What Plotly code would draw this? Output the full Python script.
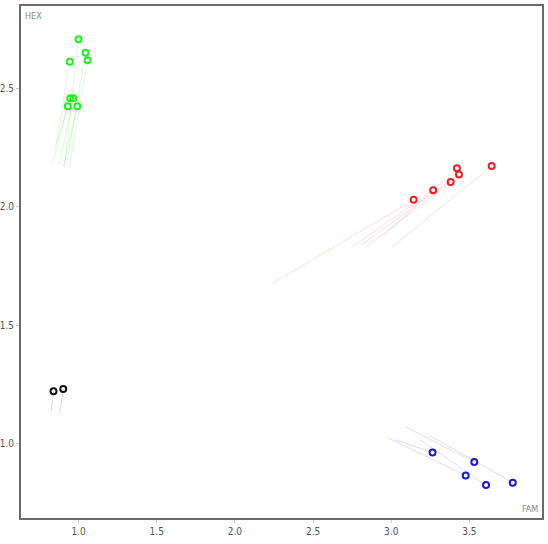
import plotly.graph_objects as go

# cluster points (FAM, HEX) and the start of the faint trail behind each one
green_x = [1.000, 0.944, 1.045, 1.058, 0.947, 0.966, 0.931, 0.992]
green_y = [2.709, 2.614, 2.652, 2.620, 2.459, 2.459, 2.426, 2.426]
green_tx = [0.910, 0.859, 0.930, 0.942, 0.846, 0.878, 0.834, 0.904]
green_ty = [2.171, 2.273, 2.201, 2.171, 2.243, 2.180, 2.180, 2.171]

red_x = [3.143, 3.268, 3.380, 3.420, 3.433, 3.642]
red_y = [2.030, 2.071, 2.105, 2.164, 2.137, 2.173]
red_tx = [2.240, 2.754, 2.842, 2.927, 2.810, 3.002]
red_ty = [1.677, 1.833, 1.833, 1.863, 1.840, 1.829]

blue_x = [3.264, 3.531, 3.476, 3.606, 3.777]
blue_y = [0.963, 0.923, 0.866, 0.825, 0.835]
blue_tx = [3.023, 3.087, 2.978, 3.183, 3.247]
blue_ty = [1.017, 1.072, 1.025, 1.017, 1.034]

black_x = [0.840, 0.902]
black_y = [1.221, 1.231]
black_tx = [0.825, 0.880]
black_ty = [1.137, 1.127]

x_ticks = [1.0, 1.5, 2.0, 2.5, 3.0, 3.5]
y_ticks = [1.0, 1.5, 2.0, 2.5]

font_family = 'DejaVu Sans Condensed, Liberation Sans Narrow, DejaVu Sans, sans-serif'

groups = [
    (green_x, green_y, green_tx, green_ty, '#22ee22', 'rgba(60,230,60,0.2)'),
    (red_x, red_y, red_tx, red_ty, '#e8202a', 'rgba(235,60,60,0.18)'),
    (blue_x, blue_y, blue_tx, blue_ty, '#1a1acc', 'rgba(80,80,220,0.2)'),
    (black_x, black_y, black_tx, black_ty, '#111111', 'rgba(80,80,80,0.2)'),
]

fig = go.Figure()

for px, py, tx, ty, col, trail in groups:
    lx, ly = [], []
    for a, b, c, d in zip(px, py, tx, ty):
        lx += [a, c, None]
        ly += [b, d, None]
    fig.add_trace(go.Scatter(x=lx, y=ly, mode='lines', line=dict(color=trail, width=1),
                             hoverinfo='skip', showlegend=False))

for px, py, tx, ty, col, trail in groups:
    fig.add_trace(go.Scatter(x=px, y=py, mode='markers', showlegend=False,
                             marker=dict(symbol='circle-open', size=6, color=col,
                                         line=dict(width=2, color=col))))

axis_style = dict(showgrid=False, zeroline=False, showline=True, mirror=True, automargin=False,
                  linecolor='#6a6a6a', linewidth=2, ticks='outside', ticklen=3,
                  tickcolor='#cccccc', tickfont=dict(family=font_family, size=10, color='#555555'))

fig.update_layout(
    width=548, height=544,
    plot_bgcolor='white', paper_bgcolor='white',
    margin=dict(l=21, r=6, t=6, b=26),
    xaxis=dict(range=[0.632, 3.964], tickvals=x_ticks, ticktext=['%.1f' % v for v in x_ticks], **axis_style),
    yaxis=dict(range=[0.686, 2.849], tickvals=y_ticks, ticktext=['%.1f' % v for v in y_ticks], **axis_style),
    annotations=[
        dict(text='HEX', xref='paper', yref='paper', x=0.004, y=0.995, xanchor='left', yanchor='top',
             showarrow=False, font=dict(family=font_family, size=9, color='#888888')),
        dict(text='FAM', xref='paper', yref='paper', x=0.997, y=0.004, xanchor='right', yanchor='bottom',
             showarrow=False, font=dict(family=font_family, size=9, color='#888888')),
    ],
)

fig.write_html("out.html", config={'displayModeBar': False},
               post_script="document.body.style.margin='0';")
